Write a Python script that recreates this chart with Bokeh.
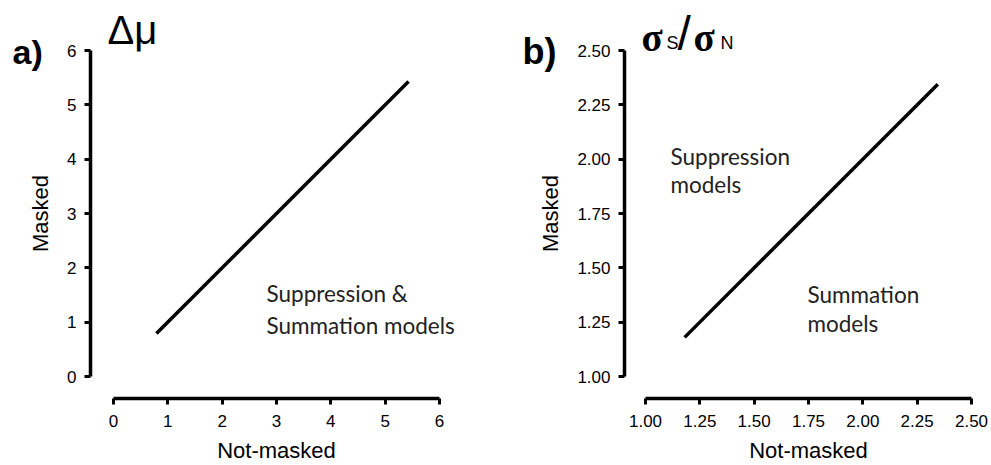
from bokeh.plotting import figure
from bokeh.layouts import row
from bokeh.models import Label, FixedTicker, NumeralTickFormatter, Range1d
from bokeh.embed import file_html
from bokeh.resources import INLINE

# ---------------- data ----------------
a_x = [0.79, 5.43]
a_y = [0.79, 5.43]
a_ticks = [0, 1, 2, 3, 4, 5, 6]

b_x = [1.18, 2.345]
b_y = [1.18, 2.345]
b_ticks = [1.00, 1.25, 1.50, 1.75, 2.00, 2.25, 2.50]

x_title = "Not-masked"
y_title = "Masked"

H = 464
WA = 505
WB = 485

# pixel geometry helpers (page coordinates)
KA = 326 / 6.0
KB = 326 / 1.5


def xa(px):
    return (px - 113) / KA


def ya(py):
    return (376 - py) / KA


def xb(px):
    return 1 + (px - 645) / KB


def yb(py):
    return 1 + (376 - py) / KB


# vertical anchor correction (fraction of font size) per font
KF = {"Liberation Sans": 0.3465, "Liberation Serif": 0.3375, "Lato": 0.387}


def style(p, ticks, bounds, xloc, yloc):
    p.grid.visible = False
    p.outline_line_color = None
    p.background_fill_color = "white"
    p.border_fill_color = "white"
    p.xaxis[0].fixed_location = yloc
    p.yaxis[0].fixed_location = xloc
    for ax in (p.xaxis[0], p.yaxis[0]):
        ax.ticker = FixedTicker(ticks=ticks)
        ax.bounds = bounds
        ax.axis_line_width = 3.5
        ax.axis_line_color = "black"
        ax.major_tick_line_width = 3
        ax.major_tick_line_color = "black"
        ax.major_tick_out = 6
        ax.major_tick_in = 0
        ax.minor_tick_line_color = None
        ax.major_label_text_font = "Liberation Sans"
        ax.major_label_text_font_size = "17px"
        ax.major_label_text_color = "black"
        ax.axis_label_text_font = "Liberation Sans"
        ax.axis_label_text_font_style = "normal"
        ax.axis_label_text_font_size = "22px"
        ax.axis_label_text_color = "black"
    p.xaxis[0].axis_label = x_title
    p.yaxis[0].axis_label = y_title
    p.xaxis[0].major_label_standoff = 10
    p.xaxis[0].axis_label_standoff = 8
    p.yaxis[0].major_label_standoff = 8
    p.yaxis[0].axis_label_standoff = 11


def lab(p, fx, fy, px, base_py, text, font="Liberation Sans", size=22.0,
        style_="normal", color="black"):
    anchor = base_py - KF[font] * size
    p.add_layout(Label(x=fx(px), y=fy(anchor), text=text, text_font=font,
                       text_font_size="%.1fpx" % size, text_font_style=style_,
                       text_color=color, text_baseline="alphabetic", text_align="left"))


# ---------------- panel a ----------------
pa = figure(width=WA, height=H, output_backend="svg", toolbar_location=None,
            x_range=Range1d(xa(0), xa(WA)), y_range=Range1d(ya(H), ya(0)),
            min_border_left=0, min_border_right=0, min_border_top=0, min_border_bottom=0)
style(pa, a_ticks, (0, 6), xa(90), ya(398))
pa.line(a_x, a_y, line_width=3.5, line_color="black")

lab(pa, xa, ya, 12, 63, "a)", size=34, style_="bold")
lab(pa, xa, ya, 107, 43, "\u0394\u03bc", size=40)
lab(pa, xa, ya, 266, 302, "Suppression &", font="Lato", size=22.5, color="#222222")
lab(pa, xa, ya, 266, 334, "Summation models", font="Lato", size=22.5, color="#222222")

# ---------------- panel b ----------------
pb = figure(width=WB, height=H, output_backend="svg", toolbar_location=None,
            x_range=Range1d(xb(WA), xb(WA + WB)), y_range=Range1d(yb(H), yb(0)),
            min_border_left=0, min_border_right=0, min_border_top=0, min_border_bottom=0)
style(pb, b_ticks, (1.0, 2.5), xb(624), yb(398))
pb.xaxis[0].formatter = NumeralTickFormatter(format="0.00")
pb.yaxis[0].formatter = NumeralTickFormatter(format="0.00")
pb.line(b_x, b_y, line_width=3.5, line_color="black")

lab(pb, xb, yb, 522, 63, "b)", size=36, style_="bold")
lab(pb, xb, yb, 641, 50, "\u03c3", font="Liberation Serif", size=39, style_="bold")
lab(pb, xb, yb, 666, 49, "S", size=18)
lab(pb, xb, yb, 677, 50, "/", size=48)
lab(pb, xb, yb, 693, 50, "\u03c3", font="Liberation Serif", size=39, style_="bold")
lab(pb, xb, yb, 720, 49, "N", size=18)
lab(pb, xb, yb, 670, 165, "Suppression", font="Lato", size=22.5, color="#222222")
lab(pb, xb, yb, 670, 193, "models", font="Lato", size=22.5, color="#222222")
lab(pb, xb, yb, 807, 303, "Summation", font="Lato", size=22.5, color="#222222")
lab(pb, xb, yb, 807, 332, "models", font="Lato", size=22.5, color="#222222")

layout = row(pa, pb)
open("out.html", "w").write(file_html(layout, INLINE))
